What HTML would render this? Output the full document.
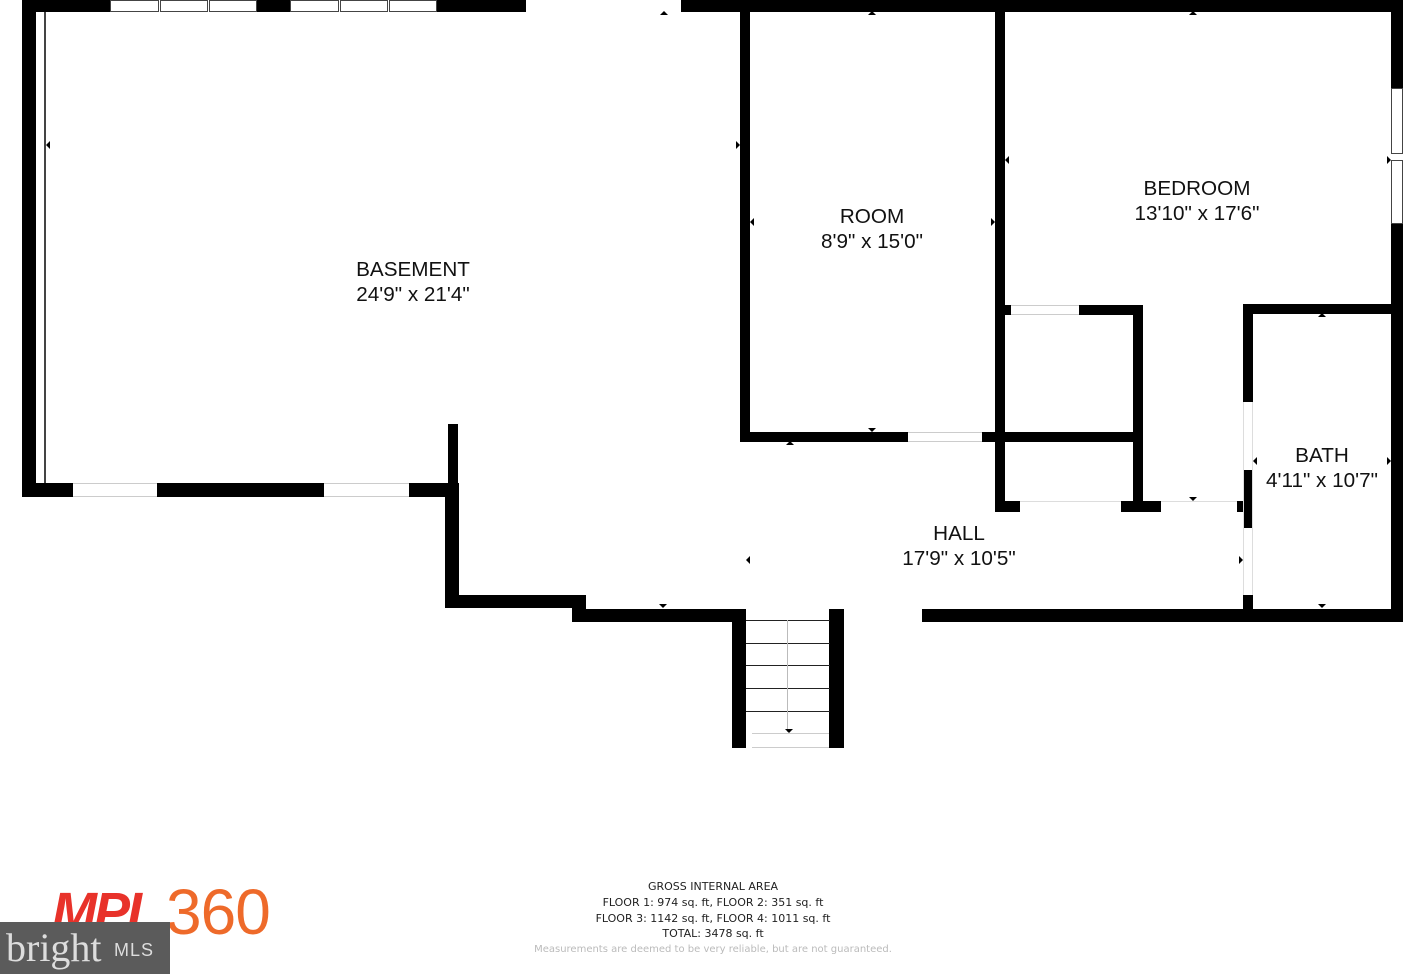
<!DOCTYPE html>
<html><head><meta charset="utf-8"><style>
body{margin:0;width:1403px;height:974px;background:#fff;position:relative;overflow:hidden;font-family:"Liberation Sans",Arial,sans-serif}
.w{position:absolute;background:#000}
.g{position:absolute;background:#fff;box-sizing:border-box;border-top:1px solid #ccc;border-bottom:1px solid #ccc}
.win{position:absolute;background:#fff;border:1px solid #444;box-sizing:border-box}
.m{position:absolute;top:0;width:3px;height:12px;border-left:1px solid #444;border-right:1px solid #444;background:#fff;box-sizing:border-box}
.l{position:absolute;text-align:center;font-size:20.7px;line-height:25px;color:#111;transform:translateX(-50%);white-space:nowrap}
.s{position:absolute;left:746px;width:84px;height:1px;background:#222}
.t{position:absolute;width:0;height:0}
.ft{position:absolute;left:713px;transform:translateX(-50%);white-space:nowrap;font-family:"DejaVu Sans",sans-serif;font-size:11px;color:#222}
</style></head><body>
<div class="w" style="left:22px;top:0;width:504px;height:12px"></div>
<div class="win" style="left:110px;top:0;width:147px;height:12px"></div>
<div class="m" style="left:158px"></div><div class="m" style="left:207px"></div>
<div class="win" style="left:290px;top:0;width:147px;height:12px"></div>
<div class="m" style="left:338px"></div><div class="m" style="left:387px"></div>
<div class="w" style="left:681px;top:0;width:722px;height:12px"></div>
<div class="w" style="left:22px;top:0;width:14px;height:497px"></div>
<div style="position:absolute;left:44px;top:12px;width:2px;height:472px;background:#444"></div>
<div class="w" style="left:22px;top:483px;width:436px;height:14px"></div>
<div class="g" style="left:73px;top:483px;width:84px;height:14px"></div>
<div class="g" style="left:324px;top:483px;width:85px;height:14px"></div>
<div class="w" style="left:448px;top:424px;width:10px;height:74px"></div>
<div class="w" style="left:445px;top:483px;width:14px;height:125px"></div>
<div class="w" style="left:445px;top:595px;width:141px;height:13px"></div>
<div class="w" style="left:572px;top:595px;width:14px;height:27px"></div>
<div class="w" style="left:572px;top:609px;width:174px;height:13px"></div>
<div class="w" style="left:732px;top:609px;width:14px;height:139px"></div>
<div class="w" style="left:829px;top:609px;width:15px;height:139px"></div>
<div class="s" style="top:620px"></div><div class="s" style="top:643px"></div><div class="s" style="top:665px"></div><div class="s" style="top:688px"></div><div class="s" style="top:711px"></div>
<div style="position:absolute;left:787px;top:620px;width:1px;height:112px;background:#bbb"></div>
<div class="g" style="left:752px;top:733px;width:77px;height:15px"></div>
<div class="w" style="left:922px;top:609px;width:481px;height:13px"></div>
<div class="w" style="left:740px;top:12px;width:10px;height:430px"></div>
<div class="w" style="left:740px;top:432px;width:168px;height:10px"></div>
<div class="g" style="left:908px;top:432px;width:74px;height:10px"></div>
<div class="w" style="left:982px;top:432px;width:161px;height:10px"></div>
<div class="w" style="left:995px;top:12px;width:10px;height:500px"></div>
<div class="w" style="left:1005px;top:305px;width:138px;height:10px"></div>
<div class="g" style="left:1011px;top:305px;width:68px;height:10px"></div>
<div class="w" style="left:1133px;top:305px;width:10px;height:206px"></div>
<div class="w" style="left:995px;top:501px;width:25px;height:11px"></div>
<div class="w" style="left:1121px;top:501px;width:40px;height:11px"></div>
<div style="position:absolute;left:1020px;top:501px;width:101px;height:1px;background:#ddd"></div>
<div style="position:absolute;left:1161px;top:501px;width:76px;height:1px;background:#ddd"></div>
<div class="w" style="left:1237px;top:501px;width:16px;height:11px"></div>
<div class="w" style="left:1243px;top:304px;width:160px;height:10px"></div>
<div class="w" style="left:1243px;top:304px;width:10px;height:98px"></div>
<div class="w" style="left:1243px;top:470px;width:10px;height:58px"></div>
<div class="w" style="left:1243px;top:595px;width:10px;height:27px"></div>
<div style="position:absolute;left:1243px;top:402px;width:1px;height:193px;background:#ddd"></div>
<div style="position:absolute;left:1252px;top:402px;width:1px;height:193px;background:#ddd"></div>
<div class="w" style="left:1391px;top:0;width:12px;height:622px"></div>
<div class="win" style="left:1391px;top:88px;width:12px;height:136px"></div>
<div style="position:absolute;left:1391px;top:153px;width:12px;height:6px;border-top:1px solid #444;border-bottom:1px solid #444;background:#fff"></div>
<div class="t" style="left:660px;top:11px;border:4px solid transparent;border-bottom-color:#000;border-top:0"></div>
<div class="t" style="left:868px;top:11px;border:4px solid transparent;border-bottom-color:#000;border-top:0"></div>
<div class="t" style="left:1189px;top:11px;border:4px solid transparent;border-bottom-color:#000;border-top:0"></div>
<div class="t" style="left:1318px;top:313px;border:4px solid transparent;border-bottom-color:#000;border-top:0"></div>
<div class="t" style="left:786px;top:441px;border:4px solid transparent;border-bottom-color:#000;border-top:0"></div>
<div class="t" style="left:868px;top:428px;border:4px solid transparent;border-top-color:#000;border-bottom:0"></div>
<div class="t" style="left:659px;top:604px;border:4px solid transparent;border-top-color:#000;border-bottom:0"></div>
<div class="t" style="left:1189px;top:497px;border:4px solid transparent;border-top-color:#000;border-bottom:0"></div>
<div class="t" style="left:1318px;top:604px;border:4px solid transparent;border-top-color:#000;border-bottom:0"></div>
<div class="t" style="left:785px;top:729px;border:4px solid transparent;border-top-color:#000;border-bottom:0"></div>
<div class="t" style="left:46px;top:141px;border:4px solid transparent;border-right-color:#000;border-left:0"></div>
<div class="t" style="left:750px;top:218px;border:4px solid transparent;border-right-color:#000;border-left:0"></div>
<div class="t" style="left:1005px;top:156px;border:4px solid transparent;border-right-color:#000;border-left:0"></div>
<div class="t" style="left:746px;top:556px;border:4px solid transparent;border-right-color:#000;border-left:0"></div>
<div class="t" style="left:1253px;top:457px;border:4px solid transparent;border-right-color:#000;border-left:0"></div>
<div class="t" style="left:736px;top:141px;border:4px solid transparent;border-left-color:#000;border-right:0"></div>
<div class="t" style="left:991px;top:218px;border:4px solid transparent;border-left-color:#000;border-right:0"></div>
<div class="t" style="left:1387px;top:156px;border:4px solid transparent;border-left-color:#000;border-right:0"></div>
<div class="t" style="left:1239px;top:556px;border:4px solid transparent;border-left-color:#000;border-right:0"></div>
<div class="t" style="left:1387px;top:457px;border:4px solid transparent;border-left-color:#000;border-right:0"></div>
<div class="l" style="left:413px;top:257px">BASEMENT<br>24'9" x 21'4"</div>
<div class="l" style="left:872px;top:204px">ROOM<br>8'9" x 15'0"</div>
<div class="l" style="left:1197px;top:176px">BEDROOM<br>13'10" x 17'6"</div>
<div class="l" style="left:1322px;top:443px">BATH<br>4'11" x 10'7"</div>
<div class="l" style="left:959px;top:521px">HALL<br>17'9" x 10'5"</div>
<div class="ft" style="top:880px">GROSS INTERNAL AREA</div>
<div class="ft" style="top:896px">FLOOR 1: 974 sq. ft, FLOOR 2: 351 sq. ft</div>
<div class="ft" style="top:912px">FLOOR 3: 1142 sq. ft, FLOOR 4: 1011 sq. ft</div>
<div class="ft" style="top:927px">TOTAL: 3478 sq. ft</div>
<div class="ft" style="top:944px;color:#bbb;font-size:10px">Measurements are deemed to be very reliable, but are not guaranteed.</div>
<div style="position:absolute;left:52px;top:882px;font-size:54px;font-weight:bold;font-style:italic;color:#e8322a;letter-spacing:-3px;line-height:60px">MPI</div>
<div style="position:absolute;left:166px;top:878px;font-size:64px;color:#ee6a2a;line-height:68px;letter-spacing:-1px">360</div>
<div style="position:absolute;left:0;top:922px;width:170px;height:52px;background:#5b5b5b"></div>
<div style="position:absolute;left:6px;top:924px;font-family:'Liberation Serif',serif;font-size:40px;color:#ddd;line-height:48px">bright</div>
<div style="position:absolute;left:114px;top:940px;font-size:18px;color:#ddd;letter-spacing:1px">MLS</div>
</body></html>
